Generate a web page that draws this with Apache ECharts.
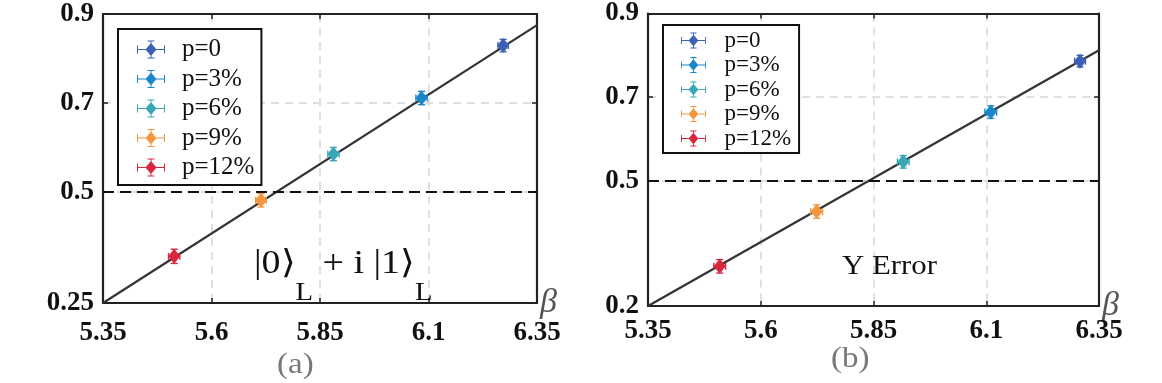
<!DOCTYPE html>
<html>
<head>
<meta charset="utf-8">
<script src="https://cdn.jsdelivr.net/npm/echarts@6/dist/echarts.min.js"></script>
<style>html,body{margin:0;padding:0;background:#fff}#c{width:1162px;height:383px}</style>
</head>
<body>
<div id="c"></div>
<script>
// ---- data ----
const names = ['p=0', 'p=3%', 'p=6%', 'p=9%', 'p=12%'];
const colors = ['#3d60b6', '#1b87cb', '#3aa7b6', '#f2963f', '#d8263e'];
const betaA = [6.272, 6.084, 5.881, 5.714, 5.514];
const valA  = [0.829, 0.711, 0.585, 0.481, 0.355];
const xErrA = [0.012, 0.013, 0.013, 0.012, 0.013];
const yErrA = [0.014, 0.015, 0.015, 0.015, 0.016];
const betaB = [6.308, 6.110, 5.916, 5.724, 5.509];
const valB  = [0.786, 0.664, 0.545, 0.426, 0.295];
const xErrB = [0.012, 0.013, 0.013, 0.013, 0.013];
const yErrB = [0.014, 0.015, 0.015, 0.016, 0.016];
const fitA = [[5.35, 0.25], [6.35, 0.875]];
const fitB = [[5.35, 0.2], [6.35, 0.812]];
const xTicks = [5.35, 5.6, 5.85, 6.1, 6.35];
const yTicksA = [0.25, 0.5, 0.7, 0.9];
const yTicksB = [0.2, 0.5, 0.7, 0.9];
const threshold = 0.5;

const FF = '"Liberation Serif","Times New Roman",serif';
const chart = echarts.init(document.getElementById('c'), null, {renderer: 'canvas'});

const iconPath = 'path://' +
  'M0 8.5 H28 V9.5 H0 Z ' +
  'M0 5 H1 V13 H0 Z M27 5 H28 V13 H27 Z ' +
  'M13.5 0 H14.5 V18 H13.5 Z ' +
  'M10.5 0 H17.5 V1 H10.5 Z M10.5 17 H17.5 V18 H10.5 Z ' +
  'M14 2.5 L19.5 9 L14 15.5 L8.5 9 Z';

function errRender(params, api) {
  const x = api.value(0), y = api.value(1), ex = api.value(2), ey = api.value(3);
  const l = api.coord([x - ex, y]), r = api.coord([x + ex, y]);
  const t = api.coord([x, y + ey]), b = api.coord([x, y - ey]);
  const cap = 3.5;
  const st = {stroke: api.visual('color'), lineWidth: 1.4};
  const line = (x1, y1, x2, y2) => ({type: 'line', shape: {x1, y1, x2, y2}, style: st});
  return {type: 'group', children: [
    line(l[0], l[1], r[0], r[1]),
    line(t[0], t[1], b[0], b[1]),
    line(l[0], l[1] - cap, l[0], l[1] + cap),
    line(r[0], r[1] - cap, r[0], r[1] + cap),
    line(t[0] - cap, t[1], t[0] + cap, t[1]),
    line(b[0] - cap, b[1], b[0] + cap, b[1])
  ]};
}

function mkAxes(gridIndex, ymin, ymax, yTicks, xMargin) {
  const axisLine = {show: true, onZero: false, lineStyle: {color: '#222', width: 2.2}};
  const tick = (vals) => ({show: true, inside: true, length: 5, customValues: vals, lineStyle: {color: '#222', width: 1.5}});
  const split = {show: true, lineStyle: {color: '#d6d6d6', width: 1.5, type: [8, 6]}};
  const lbl = {fontFamily: FF, fontWeight: 'bold', fontSize: 27, color: '#111'};
  const xs = [
    {type: 'value', gridIndex, min: 5.35, max: 6.35, position: 'bottom', axisLine, axisTick: tick(xTicks), splitLine: split,
     axisLabel: Object.assign({customValues: xTicks, margin: xMargin}, lbl),
     name: 'β', nameLocation: 'end', nameGap: 3, nameMoveOverlap: false,
     nameTextStyle: {fontFamily: FF, fontStyle: 'italic', fontSize: 34, color: '#555', align: 'left', verticalAlign: 'middle'}},
    {type: 'value', gridIndex, min: 5.35, max: 6.35, position: 'top', axisLine, axisTick: tick(xTicks), splitLine: {show: false}, axisLabel: {show: false}}
  ];
  const ys = [
    {type: 'value', gridIndex, min: ymin, max: ymax, position: 'left', axisLine, axisTick: tick(yTicks), splitLine: split,
     axisLabel: Object.assign({customValues: yTicks, margin: 9}, lbl)},
    {type: 'value', gridIndex, min: ymin, max: ymax, position: 'right', axisLine, axisTick: tick(yTicks), splitLine: {show: false}, axisLabel: {show: false}}
  ];
  return {xs, ys};
}

const axA = mkAxes(0, 0.25, 0.9, yTicksA, 17);
const axB = mkAxes(1, 0.2, 0.9, yTicksB, 12);

function panelSeries(xi, yi, beta, val, xe, ye, fit) {
  const s = [];
  s.push({type: 'line', xAxisIndex: xi, yAxisIndex: yi, data: fit, showSymbol: false, silent: true, z: 3,
    lineStyle: {color: '#333', width: 2.2},
    markLine: {silent: true, symbol: 'none', label: {show: false},
      lineStyle: {color: '#111', width: 2, type: [11, 6]}, data: [{yAxis: threshold}]}});
  names.forEach((n, i) => {
    s.push({type: 'scatter', name: n, xAxisIndex: xi, yAxisIndex: yi, symbol: 'diamond', symbolSize: [12, 15],
      itemStyle: {color: colors[i], opacity: 1}, data: [[beta[i], val[i]]], z: 5});
    s.push({type: 'custom', name: n, xAxisIndex: xi, yAxisIndex: yi, renderItem: errRender,
      itemStyle: {color: colors[i]}, data: [[beta[i], val[i], xe[i], ye[i]]], z: 4});
  });
  return s;
}

const legendBase = () => ({
  orient: 'vertical', data: names, icon: iconPath, backgroundColor: '#fff',
  borderColor: '#111', borderWidth: 2, z: 10, selectedMode: false
});

const option = {
  animation: false,
  backgroundColor: '#fff',
  grid: [
    {left: 103, top: 14, width: 434, height: 289},
    {left: 648, top: 13, width: 451, height: 293}
  ],
  xAxis: [axA.xs[0], axA.xs[1], axB.xs[0], axB.xs[1]],
  yAxis: [axA.ys[0], axA.ys[1], axB.ys[0], axB.ys[1]],
  legend: [
    Object.assign(legendBase(), {left: 118, top: 29, itemWidth: 28, itemHeight: 18, itemGap: 4.5, padding: [8, 7, 5, 19],
      textStyle: {fontFamily: FF, fontSize: 25, color: '#111', lineHeight: 22, padding: [0, 0, 0, 12]}}),
    Object.assign(legendBase(), {left: 663, top: 25, itemWidth: 28, itemHeight: 16, itemGap: 1.5, padding: [4, 8, 3, 18],
      textStyle: {fontFamily: FF, fontSize: 23, color: '#111', lineHeight: 20, padding: [0, 0, 0, 12]}})
  ],
  series: [].concat(
    panelSeries(0, 0, betaA, valA, xErrA, yErrA, fitA),
    panelSeries(2, 2, betaB, valB, xErrB, yErrB, fitB)
  ),
  graphic: [
    {type: 'text', x: 254, y: 248, scaleX: 1.15, z: 20, style: {
      text: '{a||0⟩}{s|L}{a| + i |1⟩}{s|L}', fill: '#111',
      rich: {
        a: {fontFamily: FF, fontSize: 33, verticalAlign: 'top', lineHeight: 34, fill: '#111'},
        s: {fontFamily: FF, fontSize: 25, verticalAlign: 'bottom', lineHeight: 58, fill: '#111'}
      }}},
    {type: 'text', x: 842, y: 253, scaleX: 1.1, z: 20, style: {text: 'Y Error', fontFamily: FF, fontSize: 28, fill: '#111'}},
    {type: 'text', x: 277, y: 350, scaleX: 1.1, z: 20, style: {text: '(a)', fontFamily: FF, fontSize: 30, fill: '#777'}},
    {type: 'text', x: 831, y: 344, scaleX: 1.1, z: 20, style: {text: '(b)', fontFamily: FF, fontSize: 30, fill: '#777'}}
  ]
};
chart.setOption(option);
</script>
</body>
</html>
